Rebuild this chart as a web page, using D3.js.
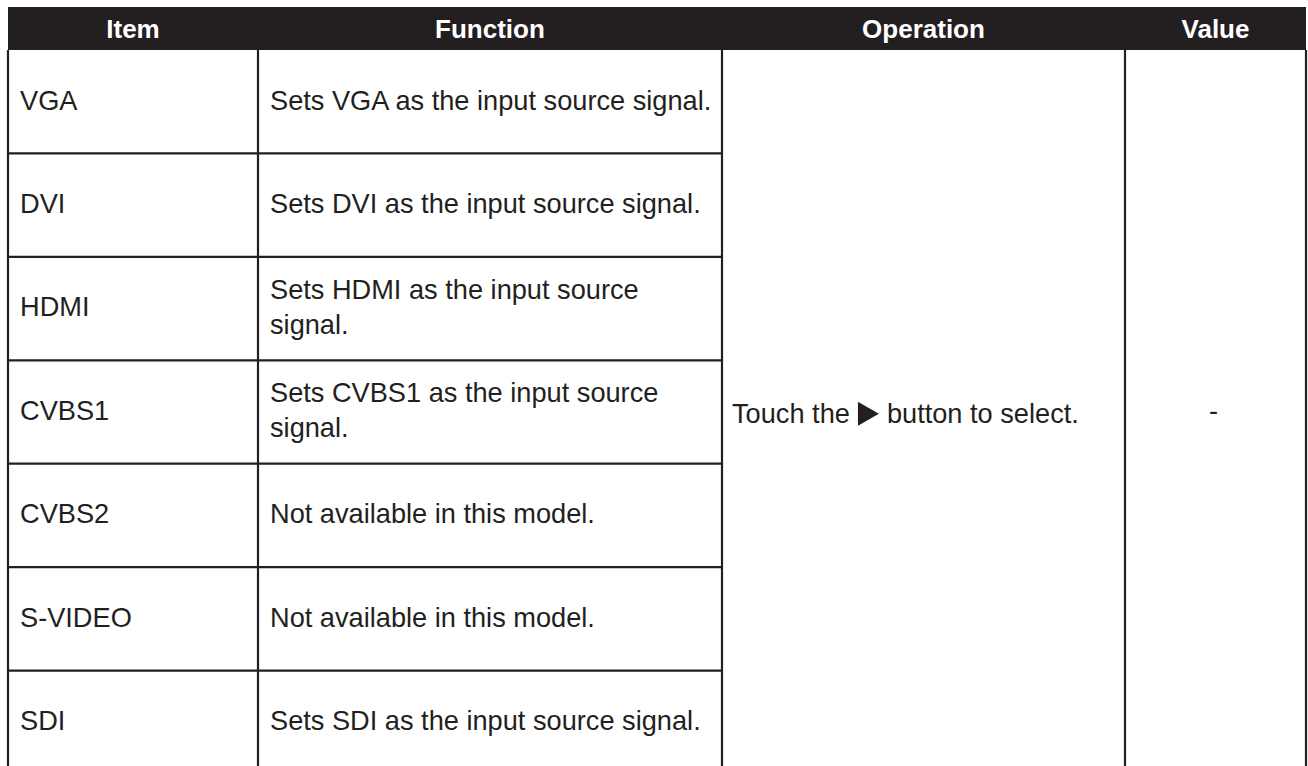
<!DOCTYPE html>
<html>
<head>
<meta charset="utf-8">
<script src="https://cdn.jsdelivr.net/npm/d3@7"></script>
<style>
html,body{margin:0;padding:0;background:#fff;}
svg{display:block;}
</style>
</head>
<body>
<svg id="chart" width="1308" height="766"></svg>
<script>
// ---- data ----
const headers = ["Item", "Function", "Operation", "Value"];
const items = ["VGA", "DVI", "HDMI", "CVBS1", "CVBS2", "S-VIDEO", "SDI"];
const functions = [
  ["Sets VGA as the input source signal."],
  ["Sets DVI as the input source signal."],
  ["Sets HDMI as the input source", "signal."],
  ["Sets CVBS1 as the input source", "signal."],
  ["Not available in this model."],
  ["Not available in this model."],
  ["Sets SDI as the input source signal."]
];
const operationParts = ["Touch the", "button to select."];
const valueText = "-";

// ---- layout ----
const ink = "#231f20";
const colEdges = [8, 258, 722, 1125, 1306];
const headTop = 7, headBottom = 50, tableBottom = 774;
const fontBody = 27.2, fontHead = 26;
const family = "'Liberation Sans', Arial, Helvetica, sans-serif";

const svg = d3.select("#chart");
const y = d3.scaleBand().domain(items).range([headBottom, tableBottom]).paddingInner(0).paddingOuter(0);
const xCol = d3.scaleOrdinal().domain(headers).range(colEdges.slice(0, 4));
const wCol = d3.scaleOrdinal().domain(headers).range(colEdges.slice(1).map((e, i) => e - colEdges[i]));

// header
svg.append("rect").attr("x", colEdges[0]).attr("y", headTop)
  .attr("width", colEdges[4] - colEdges[0]).attr("height", headBottom - headTop).attr("fill", ink);
svg.selectAll("text.head").data(headers).join("text").attr("class", "head")
  .attr("x", d => xCol(d) + wCol(d) / 2).attr("y", (headTop + headBottom) / 2 + fontHead * 0.36)
  .attr("text-anchor", "middle").attr("fill", "#fff")
  .attr("font-family", family).attr("font-weight", "bold").attr("font-size", fontHead)
  .text(d => d);

// row lines (first two columns)
const lines = svg.append("g").attr("stroke", ink).attr("stroke-width", 2.2);
items.slice(1).forEach(it => {
  lines.append("line").attr("x1", colEdges[0]).attr("x2", colEdges[2])
    .attr("y1", y(it)).attr("y2", y(it));
});
// vertical lines
colEdges.forEach(x => {
  lines.append("line").attr("x1", x).attr("x2", x).attr("y1", headBottom).attr("y2", tableBottom);
});

// item column
const pad = 12;
const lh = 35;
svg.selectAll("text.item").data(items).join("text").attr("class", "item")
  .attr("x", xCol("Item") + pad).attr("y", d => y(d) + y.bandwidth() / 2 + fontBody * 0.36 - 2)
  .attr("fill", ink).attr("font-family", family).attr("font-size", fontBody).text(d => d);

// function column
items.forEach((it, i) => {
  const ls = functions[i];
  const cy = y(it) + y.bandwidth() / 2 - 2;
  ls.forEach((t, j) => {
    svg.append("text").attr("x", xCol("Function") + pad)
      .attr("y", cy + (j - (ls.length - 1) / 2) * lh + fontBody * 0.36)
      .attr("fill", ink).attr("font-family", family).attr("font-size", fontBody).text(t);
  });
});

// operation (merged cell)
const midY = (headBottom + tableBottom) / 2;
const opBase = midY + fontBody * 0.36 + 1;
const t1 = svg.append("text").attr("x", xCol("Operation") + 10).attr("y", opBase)
  .attr("fill", ink).attr("font-family", family).attr("font-size", fontBody).text(operationParts[0]);
const w1 = t1.node().getComputedTextLength();
const triX = xCol("Operation") + 10 + w1 + 8;
const triH = 24, triW = 21;
svg.append("path")
  .attr("d", `M${triX},${opBase - 9 - triH / 2} L${triX + triW},${opBase - 9} L${triX},${opBase - 9 + triH / 2} Z`)
  .attr("fill", ink);
svg.append("text").attr("x", triX + triW + 8).attr("y", opBase)
  .attr("fill", ink).attr("font-family", family).attr("font-size", fontBody).text(operationParts[1]);

// value
svg.append("text").attr("x", xCol("Value") + wCol("Value") / 2 - 2).attr("y", opBase - 3)
  .attr("text-anchor", "middle").attr("fill", ink).attr("font-family", family).attr("font-size", fontBody)
  .text(valueText);
</script>
</body>
</html>
